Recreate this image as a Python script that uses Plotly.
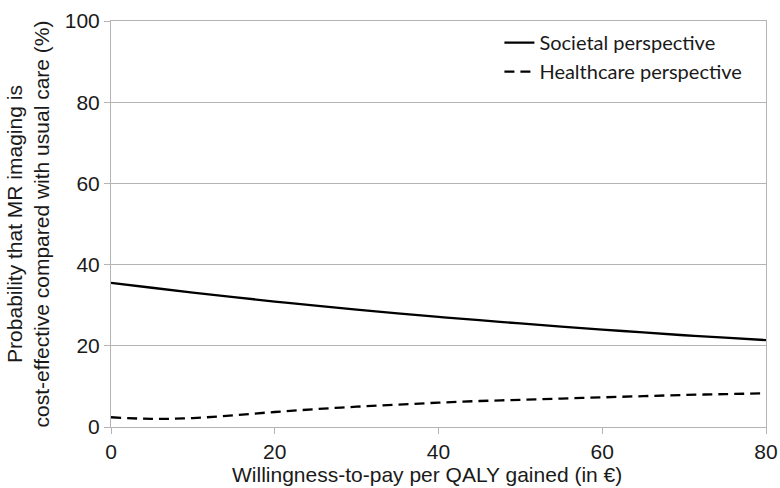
import plotly.graph_objects as go

# Willingness-to-pay (x) and probability of cost-effectiveness (%)
wtp = [0, 5, 10, 15, 20, 25, 30, 35, 40, 45, 50, 55, 60, 65, 70, 75, 80]
societal = [35.5, 34.3, 33.1, 32.0, 30.9, 29.9, 28.9, 28.0, 27.1, 26.3,
            25.5, 24.7, 24.0, 23.3, 22.6, 22.0, 21.4]
healthcare = [2.4, 2.0, 2.2, 2.9, 3.7, 4.4, 5.0, 5.5, 6.0, 6.4,
              6.7, 7.0, 7.3, 7.6, 7.9, 8.1, 8.3]
x_ticks = [0, 20, 40, 60, 80]
y_ticks = [0, 20, 40, 60, 80, 100]

axis_font = dict(family="Liberation Sans, Arial, sans-serif", size=21, color="#1a1a1a")
grid_col = "#b4b4b4"

fig = go.Figure()
fig.add_trace(go.Scatter(
    x=wtp, y=societal, mode="lines", name="Societal perspective",
    line=dict(color="black", width=2.3, shape="spline"),
))
fig.add_trace(go.Scatter(
    x=wtp, y=healthcare, mode="lines", name="Healthcare perspective",
    line=dict(color="black", width=2.3, shape="spline", dash="10px,6px"),
))

fig.update_layout(
    width=780, height=488,
    margin=dict(l=111, r=14, t=21, b=61),
    paper_bgcolor="white", plot_bgcolor="white",
    showlegend=True,
    legend=dict(
        x=0.593, y=0.995, xanchor="left", yanchor="top",
        bgcolor="rgba(0,0,0,0)", itemwidth=30,
        font=dict(family="Lato, Open Sans, sans-serif", size=20, color="#1a1a1a"),
        tracegroupgap=0,
    ),
    # x-axis title, set slightly left of the plot centre
    annotations=[dict(
        text="Willingness-to-pay per QALY gained (in €)",
        xref="paper", yref="paper", x=0.483, y=0,
        xanchor="center", yanchor="top", yshift=-34,
        showarrow=False, font=axis_font,
    )],
)
fig.update_xaxes(
    range=[0, 80], tickvals=x_ticks, ticktext=[str(v) for v in x_ticks],
    showgrid=False, showline=True, linecolor=grid_col, linewidth=1,
    mirror=True, ticks="outside", ticklen=6, tickcolor=grid_col,
    tickfont=axis_font, zeroline=False, automargin=False,
)
fig.update_yaxes(
    range=[0, 100], tickvals=y_ticks, ticktext=[str(v) for v in y_ticks],
    showgrid=True, gridcolor=grid_col, gridwidth=1,
    showline=True, linecolor=grid_col, linewidth=1, mirror=True,
    ticks="outside", ticklen=6, tickcolor=grid_col,
    tickfont=axis_font, zeroline=False, automargin=False,
    title=dict(text="Probability that MR imaging is<br>cost-effective compared with usual care (%)",
               font=axis_font, standoff=9),
)

fig.write_html("out.html")
